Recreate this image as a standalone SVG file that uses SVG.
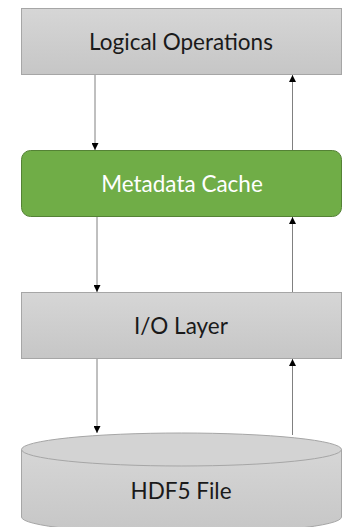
<svg xmlns="http://www.w3.org/2000/svg" width="343" height="527" viewBox="0 0 343 527">
<style>
.lbl{font-family:Lato,"Open Sans","Liberation Sans",sans-serif;font-size:22.5px;text-anchor:middle;dominant-baseline:central}
.box{fill:url(#g);stroke:#a6a6a6;stroke-width:1}
.ln{stroke:#808080;stroke-width:1;fill:none;marker-end:url(#ah)}
</style>
<defs>
<linearGradient id="g" x1="0" y1="0" x2="0" y2="1">
<stop offset="0" stop-color="#d6d6d6"/>
<stop offset="1" stop-color="#c6c6c6"/>
</linearGradient>
<marker id="ah" viewBox="0 0 10 10" refX="10" refY="5" markerWidth="7" markerHeight="7" markerUnits="userSpaceOnUse" orient="auto">
<path d="M0,0 L10,5 L0,10 z" fill="#000"/>
</marker>
</defs>
<g id="logical">
<rect class="box" x="21.5" y="8.5" width="320" height="66"/>
<text class="lbl" x="181" y="41" fill="#1a1a1a">Logical Operations</text>
</g>
<g id="cache">
<rect x="21.5" y="150.5" width="320" height="66" rx="9" fill="#70ad47" stroke="#548235"/>
<text class="lbl" x="182" y="183" fill="#ffffff">Metadata Cache</text>
</g>
<g id="io">
<rect class="box" x="21.5" y="292.5" width="320" height="66"/>
<text class="lbl" x="181" y="325" fill="#1a1a1a">I/O Layer</text>
</g>
<g id="hdf5">
<path class="box" d="M21.5,449.5 L21.5,517 A160,16.5 0 0 0 341.5,517 L341.5,449.5"/>
<ellipse cx="181.5" cy="449.5" rx="160" ry="16.5" fill="#d3d3d3" stroke="#a6a6a6"/>
<text class="lbl" x="181" y="490" fill="#1a1a1a">HDF5 File</text>
</g>
<g id="connectors">
<line class="ln" x1="95" y1="75" x2="95" y2="150"/>
<line class="ln" x1="292.5" y1="150" x2="292.5" y2="75"/>
<line class="ln" x1="97" y1="217" x2="97" y2="292"/>
<line class="ln" x1="292.5" y1="292" x2="292.5" y2="217"/>
<line class="ln" x1="97" y1="359" x2="97" y2="433"/>
<line class="ln" x1="292.5" y1="435" x2="292.5" y2="359"/>
</g>
</svg>
